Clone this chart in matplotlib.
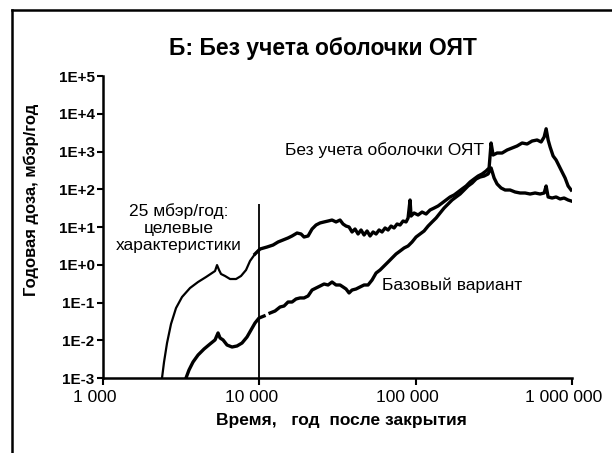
import matplotlib
matplotlib.use("Agg")
import matplotlib.pyplot as plt
from matplotlib.lines import Line2D
from matplotlib.transforms import ScaledTranslation
import numpy as np

plt.rcParams['font.family'] = ['Liberation Sans', 'DejaVu Sans']

# --- data ---
# Curve 1: upper in early times ("Без учета оболочки ОЯТ")
t_no_clad = [2385, 2457, 2568, 2723, 2932, 3203, 3603, 4054, 4560, 4982,
             5207, 5363, 5524, 5689, 6034, 6495, 7097, 7636, 8221, 8720,
             9386, 10100, 11200, 12240, 13180, 14180, 15260, 16190, 17430, 18490,
             19320, 20500, 21740, 23060, 24460, 25940, 27520, 29180, 30950, 32830,
             34310, 35860, 37490, 39180, 40950, 42810, 44740, 46770, 48880, 51090,
             53410, 55820, 58350, 60950, 63720, 66600, 69600, 72750, 76030, 79470,
             83060, 86820, 89410, 92070, 93440, 97680, 103600, 109900, 116600, 123600,
             131200, 139100, 147600, 156500, 166000, 176100, 186800, 198200, 210200, 223000,
             236400, 250800, 266100, 282200, 294900, 303700, 312800, 331800, 357200, 384500,
             414000, 445600, 479700, 516400, 555900, 598400, 634700, 663400, 683200, 703600,
             724400, 757200, 791300, 827000, 864300, 903200, 944300, 987000]
d_no_clad = [0.001, 0.00265, 0.00845, 0.027, 0.0714, 0.14, 0.242, 0.349, 0.473, 0.604,
             0.682, 0.98, 0.726, 0.569, 0.504, 0.419, 0.419, 0.504, 0.726, 1.26,
             1.93, 2.61, 2.95, 3.33, 4.01, 4.53, 5.12, 5.78, 6.93, 6.53,
             5.43, 5.78, 8.85, 11.3, 12.8, 13.6, 14.4, 15.3, 13.6, 15.3,
             12.0, 10.6, 10.0, 7.38, 8.85, 6.53, 8.33, 6.14, 7.84, 5.78,
             7.38, 6.53, 8.33, 7.38, 9.41, 8.33, 10.6, 9.41, 12.0, 11.3,
             14.4, 13.6, 17.3, 51.9, 19.5, 23.5, 20.8, 24.9, 22.1, 28.2,
             31.8, 36.0, 43.2, 51.9, 62.4, 70.5, 84.6, 102, 122, 156,
             187, 224, 254, 305, 366, 1680, 807, 912, 912, 1096,
             1239, 1400, 1680, 1581, 1897, 2018, 1786, 2421, 4000, 2018,
             1316, 760, 596, 413, 286, 199, 122, 95.5]

# Curve 2: lower in early times ("Базовый вариант"); None = gap in the line
t_base = [3396, 3549, 3765, 4054, 4428, 4837, 5207, 5443, 5606, 5859,
          6215, 6690, 7199, 7749, 8341, 8847, 9386, 9956, 10720, None,
          11710, 12610, 13570, 14390, 15260, 16190, 17170, 18210, 19320, 20500,
          21740, 23060, 24460, 25940, 27520, 29180, 30950, 32830, 34310, 35860,
          37490, 39180, 41560, 44100, 46770, 49600, 52610, 55820, 59190, 62800,
          66600, 70630, 74930, 79470, 84300, 89410, 94840, 100600, 106700, 113200,
          120100, 127400, 135100, 143300, 152000, 161200, 171000, 181400, 192400, 204100,
          216400, 229600, 243500, 258300, 274000, 290600, 303700, 317500, 331800, 351900,
          373300, 401800, 432500, 465600, 501200, 539500, 580700, 625200, 663400, 683200,
          703600, 746200, 791300, 839400, 890300, 944300, 987000]
d_base = [0.001, 0.00163, 0.00265, 0.00406, 0.00586, 0.00796, 0.0102, 0.0156, 0.0115, 0.0102,
          0.00748, 0.00662, 0.00705, 0.00845, 0.0122, 0.0187, 0.0287, 0.0388, 0.0439, None,
          0.0527, 0.0596, 0.076, 0.0807, 0.103, 0.103, 0.124, 0.132, 0.132, 0.149,
          0.214, 0.242, 0.273, 0.309, 0.291, 0.349, 0.291, 0.291, 0.258, 0.228,
          0.179, 0.214, 0.228, 0.258, 0.291, 0.291, 0.394, 0.604, 0.726, 0.927,
          1.18, 1.51, 1.93, 2.31, 2.78, 3.14, 4.01, 5.43, 6.53, 7.84,
          10.6, 13.6, 17.3, 23.5, 31.8, 40.6, 51.9, 62.4, 74.8, 95.5,
          122, 146, 187, 211, 224, 254, 366, 199, 138, 108,
          95.5, 95.5, 84.6, 79.6, 79.6, 74.8, 79.6, 74.8, 79.6, 122,
          62.4, 58.6, 62.4, 55.2, 58.6, 51.9, 48.9]

target_year = 10000
target_top = 40

x_ticks = [1e3, 1e4, 1e5, 1e6]
x_tick_labels = ["1 000", "10 000", "100 000", "1 000 000"]
y_ticks = [1e-3, 1e-2, 1e-1, 1e0, 1e1, 1e2, 1e3, 1e4, 1e5]
y_tick_labels = ["1E-3", "1E-2", "1E-1", "1E+0", "1E+1", "1E+2", "1E+3", "1E+4", "1E+5"]

title = "Б: Без учета оболочки ОЯТ"
x_label = "Время,   год  после закрытия"
y_label = "Годовая доза, мбэр/год"
label_no_clad = "Без учета оболочки ОЯТ"
label_base = "Базовый вариант"
label_target = "25 мбэр/год:\nцелевые\nхарактеристики"

# --- figure ---
fig = plt.figure(figsize=(6.12, 4.53), dpi=100)
ax = fig.add_axes([103/612, 1-378/453, (572-103)/612, (378-76)/453])

def arr(v):
    return np.array([np.nan if x is None else x for x in v], dtype=float)

tn, dn = arr(t_no_clad), arr(d_no_clad)
early = tn <= target_year * 1.01
late = tn >= target_year * 1.01
late[np.argmax(late) - 1] = True
ax.plot(tn[early], dn[early], color='black', lw=1.6, solid_joinstyle='round')
ax.plot(tn[late], dn[late], color='black', lw=2.4, solid_joinstyle='round')
ax.plot(arr(t_base), arr(d_base), color='black', lw=2.4, solid_joinstyle='round')
ax.vlines(target_year, 1e-3, target_top, color='black', lw=1.3)

ax.set_xscale('log')
ax.set_yscale('log')
ax.set_xlim(1e3, 1e6)
ax.set_ylim(1e-3, 1e5)
ax.set_xticks(x_ticks)
ax.set_xticklabels(x_tick_labels, fontsize=12.5)
ax.set_yticks(y_ticks)
ax.set_yticklabels(y_tick_labels, fontsize=11, fontweight='bold')
ax.minorticks_off()
ax.tick_params(axis='x', direction='out', length=5, width=1.5, pad=4)
ax.tick_params(axis='y', direction='out', length=4, width=1.5, pad=2)
for lab in ax.get_xticklabels():
    lab.set_transform(lab.get_transform() + ScaledTranslation(-0.08, 0, fig.dpi_scale_trans))

for s in ['top', 'right']:
    ax.spines[s].set_visible(False)
for s in ['left', 'bottom']:
    ax.spines[s].set_linewidth(1.8)

ax.text(274000, 1096, label_no_clad, ha='right', va='center', fontsize=12.5)
ax.text(60950, 0.291, label_base, ha='left', va='center', fontsize=12.5)
ax.text(3060, 9.4, label_target, ha='center', va='center', fontsize=12.5, linespacing=1.2)

fig.text(323/612, 1-48/453, title, ha='center', va='center', fontsize=16.5, fontweight='bold')
fig.text(341/612, 1-420/453, x_label, ha='center', va='center', fontsize=12.5, fontweight='bold')
fig.text(31/612, 1-200/453, y_label, ha='center', va='center', fontsize=12, fontweight='bold', rotation=90)

# outer frame (left and top edges)
fig.add_artist(Line2D([12/612, 12/612], [0, 1-10/453], transform=fig.transFigure, color='black', lw=1.8))
fig.add_artist(Line2D([12/612, 1], [1-10/453, 1-10/453], transform=fig.transFigure, color='black', lw=1.8))

fig.savefig("out.png", dpi=100)
